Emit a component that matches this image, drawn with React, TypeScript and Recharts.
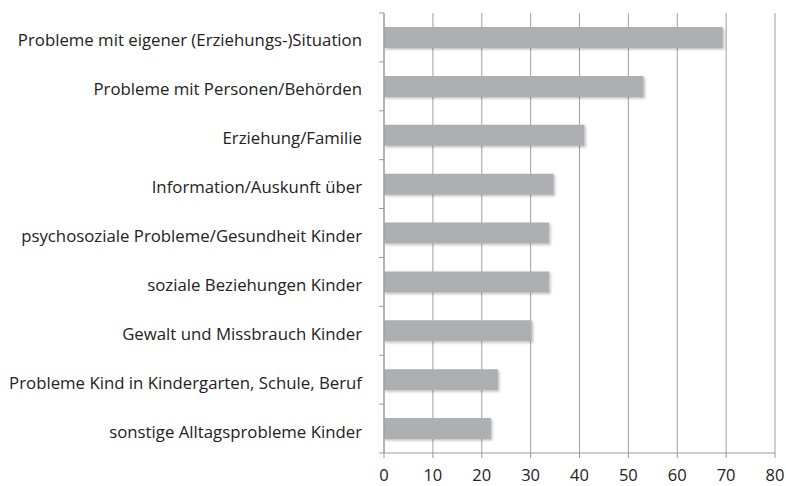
import React from 'react';
import { BarChart, Bar, XAxis, YAxis, CartesianGrid } from 'recharts';

const categories = [
  'Probleme mit eigener (Erziehungs-)Situation',
  'Probleme mit Personen/Behörden',
  'Erziehung/Familie',
  'Information/Auskunft über',
  'psychosoziale Probleme/Gesundheit Kinder',
  'soziale Beziehungen Kinder',
  'Gewalt und Missbrauch Kinder',
  'Probleme Kind in Kindergarten, Schule, Beruf',
  'sonstige Alltagsprobleme Kinder',
];
const values = [69.3, 53.1, 41, 34.7, 33.8, 33.8, 30.2, 23.3, 21.9];
const xTicks = [0, 10, 20, 30, 40, 50, 60, 70, 80];

const data = categories.map((name, i) => ({ name, value: values[i] }));

const FONT = '"Open Sans", sans-serif';
const AXIS_X = 384;
const BAND = 440 / categories.length;

// label at band centre, small tick marks at band boundaries
const CategoryTick = (props: any) => {
  const { y, payload, index } = props;
  const top = y - BAND / 2;
  return (
    <g>
      <line x1={AXIS_X - 5} x2={AXIS_X} y1={top} y2={top} stroke="#9a9a9a" />
      {index === categories.length - 1 && (
        <line x1={AXIS_X - 5} x2={AXIS_X} y1={top + BAND} y2={top + BAND} stroke="#9a9a9a" />
      )}
      <text x={362} y={y} dy={9} textAnchor="end" fill="#222" fontSize={16.8} fontFamily={FONT}>
        {payload.value}
      </text>
    </g>
  );
};

const App: React.FC = () => {
  return (
    <div style={{ position: 'absolute', left: 0, top: 0 }}>
      <BarChart
        width={786}
        height={486}
        data={data}
        layout="vertical"
        margin={{ top: 13, right: 11, left: 0, bottom: 3 }}
      >
        <defs>
          <filter id="barShadow" x="-5%" y="-30%" width="110%" height="170%">
            <feDropShadow dx="1.5" dy="1.5" stdDeviation="1" floodColor="#000" floodOpacity="0.25" />
          </filter>
        </defs>
        <CartesianGrid horizontal={false} stroke="#a0a0a0" />
        <XAxis
          type="number"
          domain={[0, 80]}
          ticks={xTicks}
          interval={0}
          height={30}
          axisLine={{ stroke: '#9a9a9a' }}
          tickLine={{ stroke: '#9a9a9a' }}
          tickSize={5}
          tickMargin={11}
          tick={{ fill: '#222', fontSize: 16.5, fontFamily: FONT }}
        />
        <YAxis
          type="category"
          dataKey="name"
          width={384}
          axisLine={{ stroke: '#9a9a9a' }}
          tickLine={false}
          tick={<CategoryTick />}
          interval={0}
        />
        <Bar dataKey="value" fill="#aeafb3" barSize={21} filter="url(#barShadow)" isAnimationActive={false} />
      </BarChart>
    </div>
  );
};

export default App;
